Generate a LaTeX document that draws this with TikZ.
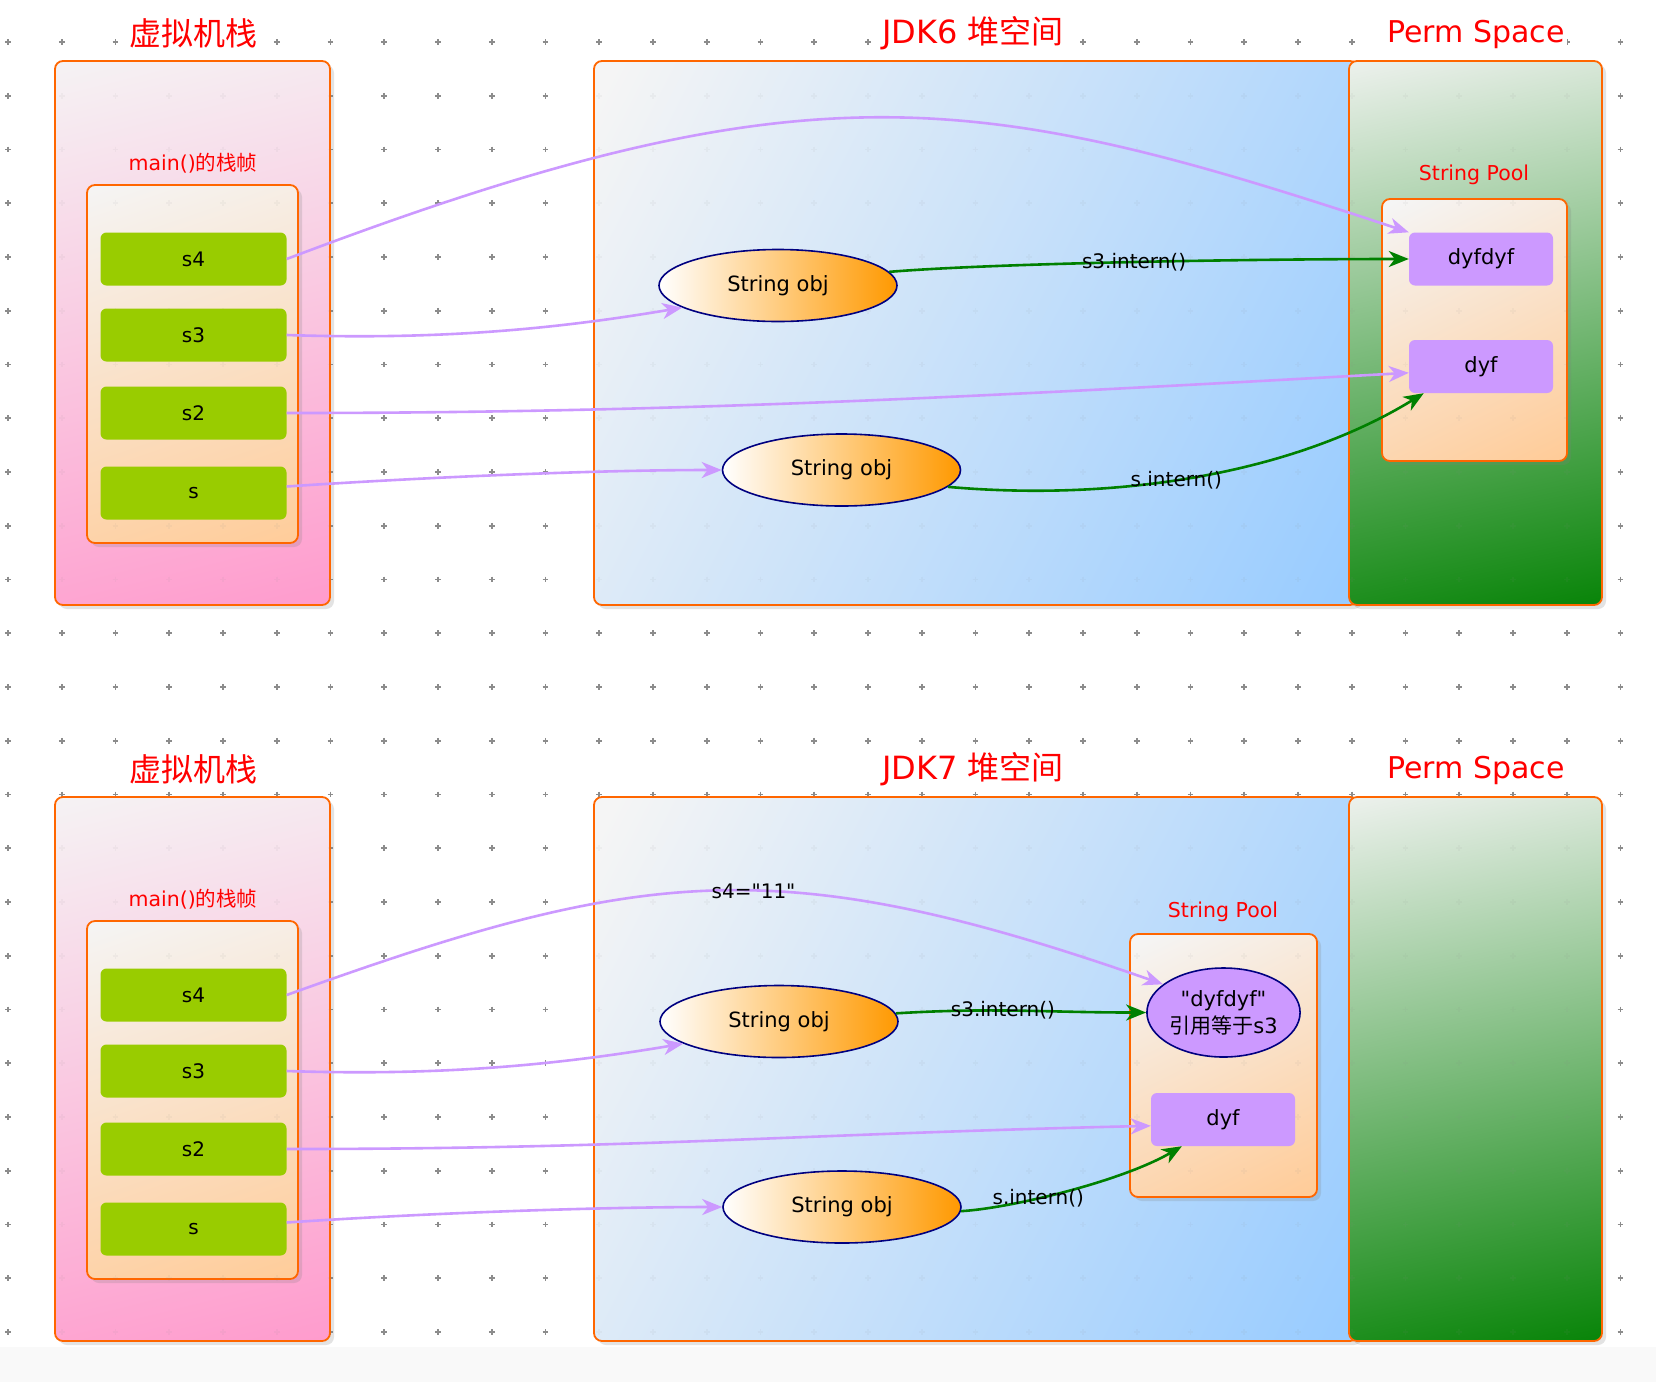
\documentclass[tikz,border=0pt]{standalone}
\usepackage{fontspec}
\setmainfont{DejaVu Sans}
\newfontfamily\cjk{Noto Sans CJK SC}
\usetikzlibrary{shapes.geometric,shadows,arrows.meta}

\definecolor{titlered}{HTML}{FF0000}
\definecolor{boxborder}{HTML}{FF6600}
\definecolor{stackpink}{HTML}{FF99CC}
\definecolor{heapblue}{HTML}{99CCFF}
\definecolor{permgreen}{HTML}{008000}
\definecolor{framepeach}{HTML}{FFCC99}
\definecolor{vargreen}{HTML}{99CC00}
\definecolor{poolpurple}{HTML}{CC99FF}
\definecolor{objorange}{HTML}{FF9900}
\definecolor{objborder}{HTML}{000080}
\definecolor{refgreen}{HTML}{008000}

% corner to corner fade, used with a rotation
\colorlet{shadefrom}{white!96!black}
\colorlet{shadeto}{gray}
\pgfdeclareverticalshading[shadefrom,shadeto]{diagfade}{100bp}{%
  color(0bp)=(shadeto); color(18bp)=(shadeto);
  color(82bp)=(shadefrom); color(100bp)=(shadefrom)}

% dotted background, 31 x 25 small crosses
\newcommand{\gridcrosses}{%
  \foreach \i in {0,...,30}
    \foreach \j in {0,...,24}
      \draw ({8+53.75*\i-2.8},{42+53.75*\j}) -- ++(5.6,0)
            ({8+53.75*\i},{42+53.75*\j-2.8}) -- ++(0,5.6);%
}

\begin{document}
\begin{tikzpicture}[x=1pt,y=-1pt,
    gridmark/.style={draw=gray!90,line width=1.6pt},
    area/.style={draw=boxborder,line width=1.8pt,rounded corners=8pt,inner sep=0pt,
      drop shadow={shadow xshift=4pt,shadow yshift=-4pt,opacity=0.22}},
    shade to/.style 2 args={/utils/exec={\colorlet{shadeto}{#1}},shade,shading=diagfade,shading angle=#2},
    heading/.style={text=titlered,fill=white,inner sep=2pt,font=\fontsize{32}{38}\selectfont},
    permheading/.style={text=titlered,fill=white,inner sep=2pt,font=\fontsize{30}{36}\selectfont},
    subheading/.style={text=titlered,inner sep=0pt,font=\fontsize{20.5}{24}\selectfont},
    varbox/.style={fill=vargreen,rounded corners=6pt,minimum width=186pt,minimum height=53pt,
      inner sep=0pt,font=\fontsize{20}{24}\selectfont},
    pooled/.style={fill=poolpurple,rounded corners=6pt,minimum width=144pt,minimum height=53pt,
      inner sep=0pt,font=\fontsize{21}{25}\selectfont},
    strobj/.style={ellipse,draw=objborder,line width=1.6pt,left color=white,right color=objorange,
      minimum width=238pt,minimum height=72pt,inner sep=0pt,font=\fontsize{21}{25}\selectfont},
    pooledobj/.style={ellipse,draw=objborder,line width=1.6pt,fill=poolpurple,align=center,
      minimum width=145pt,minimum height=89pt,inner sep=0pt,font=\fontsize{21}{27}\selectfont},
    pointer/.style={draw=poolpurple,line width=2.6pt,-{Stealth[length=20pt,width=16pt,inset=6pt]}},
    interned/.style={draw=refgreen,line width=2.6pt,-{Stealth[length=20pt,width=16pt,inset=6pt]}},
    calltext/.style={inner sep=0pt,font=\fontsize{20}{24}\selectfont}]

  \useasboundingbox (0,0) rectangle (1656,1382);
  \fill[white] (0,0) rectangle (1656,1382);
  \fill[gray!5] (0,1347) rectangle (1656,1382); % bottom band

  \begin{scope}[gridmark]
    \gridcrosses
  \end{scope}

  % ---------------- JDK6 ----------------
  \node[area,shade to={stackpink}{14},minimum width=275pt,minimum height=544pt] (stackA) at (192.5,333) {};
  \node[area,shade to={framepeach}{19},minimum width=211pt,minimum height=358pt] (frameA) at (192.5,364) {};
  \node[area,shade to={heapblue}{63},minimum width=764pt,minimum height=544pt] (heapA) at (976,333) {};
  \node[area,shade to={permgreen}{12},minimum width=253pt,minimum height=544pt] (permA) at (1475.5,333) {};
  \node[area,shade to={framepeach}{26},minimum width=185pt,minimum height=262pt] (poolA) at (1474.5,330) {};

  % ---------------- JDK7 ----------------
  \node[area,shade to={stackpink}{14},minimum width=275pt,minimum height=544pt] (stackB) at (192.5,1069) {};
  \node[area,shade to={framepeach}{19},minimum width=211pt,minimum height=358pt] (frameB) at (192.5,1100) {};
  \node[area,shade to={heapblue}{63},minimum width=764pt,minimum height=544pt] (heapB) at (976,1069) {};
  \node[area,shade to={permgreen}{12},minimum width=253pt,minimum height=544pt] (permB) at (1475.5,1069) {};
  \node[area,shade to={framepeach}{26},minimum width=187pt,minimum height=263pt] (poolB) at (1223.5,1065.5) {};

  \begin{scope}[gridmark,draw opacity=0.07]
    \gridcrosses
  \end{scope}

  % titles
  \node[heading] (stacktitleA) at (193,33) {\cjk 虚拟机栈};
  \node[heading] (heaptitleA) at (973,33) {JDK6 {\cjk 堆空间}};
  \node[permheading] (permtitleA) at (1476,34) {Perm Space};
  \node[heading] (stacktitleB) at (193,769) {\cjk 虚拟机栈};
  \node[heading] (heaptitleB) at (973,769) {JDK7 {\cjk 堆空间}};
  \node[permheading] (permtitleB) at (1476,770) {Perm Space};

  \node[subheading] (frametitleA) at (193,163) {main(){\cjk 的栈帧}};
  \node[subheading] (frametitleB) at (193,899) {main(){\cjk 的栈帧}};
  \node[subheading] (pooltitleA) at (1474,175) {String Pool};
  \node[subheading] (pooltitleB) at (1223,912) {String Pool};

  % local variables
  \foreach \v/\y in {s4/259,s3/335,s2/413,s/493}{
    \node[varbox] (\v A) at (193.5,\y) {\v};
    \node[varbox] (\v B) at (193.5,{\y+736}) {\v};
  }

  % heap objects
  \node[strobj] (objoneA) at (778,285.5) {String obj};
  \node[strobj] (objtwoA) at (841.5,470) {String obj};
  \node[strobj] (objoneB) at (779,1021.5) {String obj};
  \node[strobj] (objtwoB) at (842,1207) {String obj};

  % pool entries
  \node[pooled] (dyfdyfA) at (1481,259) {dyfdyf};
  \node[pooled] (dyfA) at (1481,366.5) {dyf};
  \node[pooledobj] (dyfdyfB) at (1223.5,1012.5) {\textquotedbl dyfdyf\textquotedbl\\{\cjk 引用等于}s3};
  \node[pooled] (dyfB) at (1223,1119.5) {dyf};

  % references, JDK6
  \draw[pointer] (s4A.east) .. controls +(522,-198) and +(-432,-143) .. (dyfdyfA.north west);
  \draw[pointer] (s3A.east) .. controls +(150,5) and +(-130,22) .. (objoneA.193);
  \draw[pointer] (s2A.east) .. controls +(380,0) and +(-450,25) .. (dyfA.185);
  \draw[pointer] (sA.4) .. controls +(150,-10) and +(-120,0) .. (objtwoA.west);
  \draw[interned] (objoneA.7) .. controls +(110,-9) and +(-150,0) .. node[calltext,pos=0.5] {s3.intern()} (dyfdyfA.west);
  \draw[interned] (objtwoA.-9) .. controls +(170,15) and +(-130,80) .. node[calltext,pos=0.45] {s.intern()} (dyfA.205);

  % references, JDK7
  \draw[pointer] (s4B.east) .. controls +(358,-129) and +(-383,-134) .. node[calltext,pos=0.55] {s4=\textquotedbl 11\textquotedbl} (dyfdyfB.155);
  \draw[pointer] (s3B.east) .. controls +(150,5) and +(-130,22) .. (objoneB.193);
  \draw[pointer] (s2B.east) .. controls +(350,0) and +(-350,8) .. (dyfB.185);
  \draw[pointer] (sB.4) .. controls +(150,-10) and +(-120,0) .. (objtwoB.west);
  \draw[interned] (objoneB.4) .. controls +(100,-6) and +(-100,0) .. node[calltext,pos=0.42] {s3.intern()} (dyfdyfB.west);
  \draw[interned] (objtwoB.-2) .. controls +(50,-3) and +(-60,35) .. node[calltext,pos=0.38] {s.intern()} (dyfB.213);
\end{tikzpicture}
\end{document}
